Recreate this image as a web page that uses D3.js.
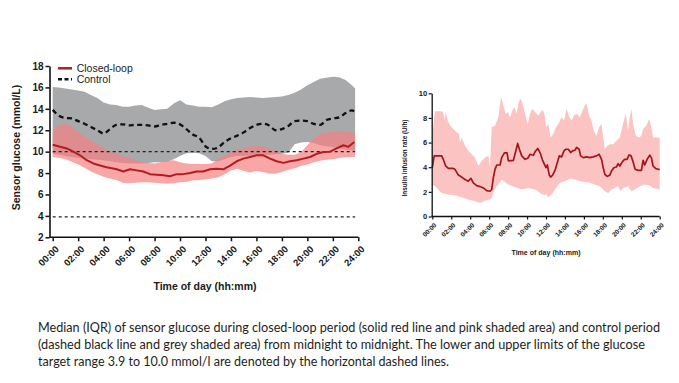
<!DOCTYPE html>
<html><head><meta charset="utf-8">
<script src="https://cdn.jsdelivr.net/npm/d3@7"></script>
<style>
html,body{margin:0;padding:0;background:#fff;}
svg{display:block;}
.ax text{font-family:"Liberation Sans",Arial,sans-serif;font-weight:bold;fill:#1a1a1a;}
</style></head>
<body>
<script>
// ---------- Left chart: sensor glucose (mmol/L) ----------
const gridHours = [0,0.5,1,1.5,2,2.5,3,3.5,4,4.5,5,5.5,6,6.5,7,7.5,8,8.5,9,9.5,10,10.5,11,11.5,12,12.5,13,13.5,14,14.5,15,15.5,16,16.5,17,17.5,18,18.5,19,19.5,20,20.5,21,21.5,22,22.5,23,23.5,23.75];
const controlQ3 = [16.05,16.0,15.9,15.8,15.7,15.6,15.3,15.0,14.6,14.4,14.35,14.2,14.2,14.3,14.35,14.1,13.9,13.95,14.0,14.5,14.8,14.4,14.3,14.2,14.2,14.15,14.4,14.7,14.9,15.0,15.05,15.1,15.05,15.0,15.05,15.1,15.15,15.3,15.5,15.8,16.2,16.5,16.8,16.9,17.0,16.95,16.7,16.2,15.9];
const controlQ1 = [9.8,9.7,9.6,9.5,9.4,9.35,9.3,9.25,9.2,9.1,9.0,8.95,8.9,8.9,8.9,8.95,9.0,9.0,9.05,9.3,9.6,9.85,9.9,9.85,9.6,9.1,9.1,9.3,9.5,9.6,9.6,9.65,9.65,9.7,9.7,9.75,9.8,9.9,10.7,10.85,10.9,10.8,10.6,10.5,10.4,10.3,10.2,10.1,10.0];
const controlMedian = [13.9,13.35,13.15,13.1,12.85,12.6,12.3,12.0,11.7,12.1,12.5,12.55,12.45,12.5,12.5,12.45,12.35,12.5,12.6,12.7,12.55,12.1,11.6,11.3,10.5,10.25,10.4,10.9,11.25,11.5,11.8,12.2,12.5,12.6,12.45,12.0,12.1,12.4,12.85,12.9,12.85,12.6,12.5,12.95,13.1,13.2,13.6,13.85,13.7];
const closedQ3 = [12.0,12.5,12.6,12.3,11.85,11.4,11.0,10.7,10.3,10.0,9.8,9.6,9.4,9.2,9.0,8.95,8.9,9.0,9.15,9.2,9.0,8.9,8.85,8.85,8.85,8.9,9.3,9.6,9.95,10.2,10.3,10.45,10.5,10.45,10.3,10.0,9.8,9.7,9.7,9.95,10.6,11.2,11.65,11.8,11.85,11.85,11.9,11.8,11.7];
const closedQ1 = [9.5,9.4,9.3,9.05,8.8,8.5,8.15,7.9,7.65,7.5,7.35,7.1,7.05,7.1,7.15,7.15,7.1,7.05,7.0,7.05,7.15,7.2,7.3,7.35,7.4,7.5,7.6,7.9,8.25,8.4,8.2,8.05,8.2,8.1,7.95,7.95,8.1,8.3,8.45,8.65,8.8,9.0,9.15,9.25,9.3,9.4,9.5,9.5,9.5];
const closedMedHours = [0,0.58,1.1,1.62,2.15,2.67,3.19,3.72,4.24,5.03,5.55,6.07,6.6,7.12,7.64,8.17,8.69,9.21,9.74,10.26,10.79,11.31,11.83,12.36,12.88,13.4,13.93,14.45,14.97,15.5,16.02,16.54,17.07,17.59,18.12,18.64,19.16,19.69,20.21,20.73,21.26,21.78,22.3,22.83,23.22,23.69];
const closedMedian = [10.65,10.45,10.3,10.0,9.66,9.2,8.9,8.7,8.55,8.35,8.15,8.35,8.25,8.15,7.9,7.85,7.8,7.7,7.9,7.9,8.0,8.15,8.15,8.35,8.4,8.35,8.7,9.1,9.35,9.5,9.66,9.66,9.35,9.1,8.95,9.1,9.2,9.35,9.5,9.8,9.97,10.0,10.3,10.6,10.45,10.9];
const targetLimits = [10.0, 3.9];
const glucoseTicks = [2,4,6,8,10,12,14,16,18];
const timeTicks = [0,2,4,6,8,10,12,14,16,18,20,22,24];
const timeLabels = ["00:00","02:00","04:00","06:00","08:00","10:00","12:00","14:00","16:00","18:00","20:00","22:00","24:00"];
const legendLabels = ["Closed-loop","Control"];

// ---------- Right chart: insulin infusion rate (U/h) ----------
const insMedHours = [0,0.2,0.99,1.16,1.41,1.69,2.2,2.39,2.75,3.1,3.45,3.8,4.08,4.33,4.68,5.04,5.39,5.74,6.09,6.27,6.44,6.62,6.8,7.15,7.32,7.61,7.89,8.03,8.56,8.8,9.01,9.19,9.44,9.79,10.07,10.32,10.67,10.85,11.13,11.37,11.62,11.8,12.0,12.14,12.35,12.49,12.7,12.95,13.19,13.4,13.65,13.9,14.1,14.35,14.6,14.8,15.05,15.23,15.5,15.65,15.93,16.28,16.63,16.98,17.33,17.61,17.86,18.04,18.21,18.46,18.74,18.91,19.16,19.44,19.61,19.79,20.07,20.3,20.55,20.77,20.98,21.19,21.4,21.72,22.07,22.25,22.42,22.67,22.95,23.12,23.3,23.56,23.82,24];
const insMedian = [3.96,4.92,4.92,4.64,4.1,3.9,3.9,3.83,3.36,3.2,3.0,2.87,3.09,2.73,2.51,2.43,2.32,2.1,2.05,2.19,3.14,3.83,4.18,4.18,4.78,5.16,5.16,4.51,4.56,5.27,5.93,5.46,4.92,4.64,4.73,5.05,4.97,5.27,5.52,5.19,4.6,4.3,3.96,4.18,3.36,3.2,3.36,3.74,4.37,4.92,4.84,5.33,5.46,5.46,5.19,5.33,5.38,5.6,5.46,4.92,4.78,4.84,4.78,4.84,4.92,5.05,4.64,3.96,3.42,3.25,3.36,3.69,3.96,4.02,4.29,4.1,4.45,4.64,4.64,5.0,4.92,4.45,3.83,3.74,3.74,4.56,4.18,4.64,4.97,4.78,4.1,3.9,3.83,3.83];
const insQ3Hours = [0,0.28,0.99,1.16,1.34,1.41,1.62,1.87,2.22,2.57,2.82,2.92,3.1,3.45,3.8,4.15,4.5,4.86,5.21,5.56,5.92,6.09,6.27,6.62,6.97,7.25,7.5,7.75,7.96,8.2,8.45,8.66,8.9,9.08,9.26,9.44,9.61,9.79,10.07,10.32,10.56,10.85,11.2,11.55,11.72,11.9,12.0,12.25,12.49,12.77,13.05,13.3,13.65,13.9,14.18,14.46,14.7,14.95,15.23,15.58,15.86,16.1,16.28,16.56,16.8,17.05,17.33,17.61,17.86,18.04,18.21,18.46,18.74,19.09,19.44,19.79,20.12,20.42,20.67,20.84,21.0,21.19,21.47,21.82,22.07,22.25,22.6,22.88,23.12,23.3,23.65,24];
const insQ3 = [6.6,8.55,8.55,8.47,7.8,8.55,7.8,7.4,7.1,6.83,6.7,6.0,6.4,5.74,5.33,5.05,4.78,4.1,4.5,4.78,4.92,3.96,7.24,7.38,8.06,9.7,9.0,8.33,8.47,8.06,8.6,8.88,8.33,9.15,9.56,9.4,8.88,8.33,7.5,8.33,8.74,8.47,8.2,8.6,8.6,8.06,7.24,7.51,6.42,6.69,7.24,7.51,8.06,7.79,8.74,8.06,7.79,8.2,8.33,8.06,8.6,9.02,9.15,8.2,7.79,6.97,6.56,7.24,7.51,6.42,5.46,5.74,5.87,5.87,6.15,6.42,7.51,8.33,6.97,8.06,8.74,7.51,6.56,6.42,6.56,7.1,7.38,7.92,7.24,6.42,6.42,6.37];
const insQ1Hours = [0,0.28,0.63,0.99,1.69,2.39,3.1,3.8,4.5,5.04,5.56,6.09,6.27,6.62,6.97,7.32,7.68,8.03,8.73,9.44,10.14,10.85,11.55,11.9,12.0,12.25,12.6,12.95,13.47,14.0,14.53,15.05,15.58,16.1,16.63,17.16,17.68,18.21,18.56,18.91,19.26,19.61,19.86,20.14,20.67,21.02,21.37,21.89,22.42,22.88,23.3,24];
const insQ1 = [2.6,2.46,2.19,1.91,1.78,1.72,1.56,1.37,1.23,1.09,1.28,1.37,1.5,2.32,2.6,3.0,2.81,2.6,2.38,2.19,2.32,2.19,1.83,1.72,1.83,1.56,1.78,2.19,2.73,2.87,3.09,3.0,2.87,2.81,2.73,2.6,2.46,2.05,1.91,2.19,2.32,2.46,2.05,2.32,2.46,2.05,2.19,2.46,2.6,2.54,2.32,2.19];
const insulinTicks = [0,2,4,6,8,10];

const captionLines = [
  "Median (IQR) of sensor glucose during closed-loop period (solid red line and pink shaded area) and control period",
  "(dashed black line and grey shaded area) from midnight to midnight. The lower and upper limits of the glucose",
  "target range 3.9 to 10.0 mmol/l are denoted by the horizontal dashed lines."
];

const W = 679, H = 383;
const svg = d3.select("body").append("svg").attr("width", W).attr("height", H);
svg.append("rect").attr("width", W).attr("height", H).attr("fill", "#fff");

// ===== Left chart =====
const xL = d3.scaleLinear().domain([0, 24]).range([52.7, 358.3]);
const yL = d3.scaleLinear().domain([2, 18]).range([237.3, 66]);
const axLx = 49.5;
const gL = svg.append("g");

const areaL = (lo, hi) => d3.area().x((d, i) => xL(gridHours[i])).y0((d, i) => yL(lo[i])).y1((d, i) => yL(hi[i]));
gL.append("path").attr("d", areaL(controlQ1, controlQ3)(gridHours)).attr("fill", "#a7a9aa");
gL.append("path").attr("d", areaL(closedQ1, closedQ3)(gridHours)).attr("fill", "rgb(245,128,128)").attr("fill-opacity", 0.7);

targetLimits.forEach(v => {
  gL.append("line").attr("x1", xL(0)).attr("x2", xL(23.75)).attr("y1", yL(v)).attr("y2", yL(v))
    .attr("stroke", "#222").attr("stroke-width", 1.3).attr("stroke-dasharray", "3,3");
});

gL.append("path").attr("d", d3.line().x((d, i) => xL(gridHours[i])).y(d => yL(d)).curve(d3.curveMonotoneX)(controlMedian))
  .attr("fill", "none").attr("stroke", "#111").attr("stroke-width", 2.3).attr("stroke-dasharray", "5,3.5");
gL.append("path").attr("d", d3.line().x((d, i) => xL(closedMedHours[i])).y(d => yL(d))(closedMedian))
  .attr("fill", "none").attr("stroke", "#b31d22").attr("stroke-width", 2).attr("stroke-linejoin", "round");

// axes
const yAxL = gL.append("g").attr("class", "ax").attr("transform", `translate(${axLx},0)`)
  .call(d3.axisLeft(yL).tickValues(glucoseTicks).tickSize(4).tickPadding(2).tickSizeOuter(0));
yAxL.selectAll("text").style("font-size", "10px");
yAxL.selectAll("line").attr("stroke", "#111").attr("stroke-width", 1.5);
yAxL.select(".domain").attr("stroke", "#111").attr("stroke-width", 1.6);

const xAxL = gL.append("g").attr("class", "ax").attr("transform", `translate(0,${yL(2)})`)
  .call(d3.axisBottom(xL).tickValues(timeTicks).tickFormat((d, i) => timeLabels[i]).tickSize(4).tickSizeOuter(0));
xAxL.select(".domain").remove();
xAxL.append("line").attr("x1", axLx).attr("x2", xL(24)).attr("stroke", "#111").attr("stroke-width", 1.6);
xAxL.selectAll(".tick line").attr("stroke", "#111").attr("stroke-width", 1.5);
xAxL.selectAll(".tick text").style("font-size", "9.5px").attr("x", 0).attr("y", 0).attr("dy", "0.35em")
  .attr("text-anchor", "end").attr("transform", "translate(4,10) rotate(-45)");

gL.append("text").attr("x", 205).attr("y", 286).attr("dy", "0.35em").attr("text-anchor", "middle")
  .style("font", "bold 10.5px 'Liberation Sans', Arial, sans-serif").attr("fill", "#1a1a1a").text("Time of day (hh:mm)");
gL.append("text").attr("transform", "translate(16,147.5) rotate(-90)").attr("dy", "0.35em").attr("text-anchor", "middle")
  .style("font", "bold 10.5px 'Liberation Sans', Arial, sans-serif").attr("fill", "#1a1a1a").text("Sensor glucose (mmol/L)");

// legend
const leg = gL.append("g");
leg.append("line").attr("x1", 58).attr("x2", 72).attr("y1", 68.3).attr("y2", 68.3).attr("stroke", "#b31d22").attr("stroke-width", 2.5);
leg.append("line").attr("x1", 58).attr("x2", 72).attr("y1", 79.3).attr("y2", 79.3).attr("stroke", "#111").attr("stroke-width", 2.5).attr("stroke-dasharray", "4,2.5");
legendLabels.forEach((t, i) => {
  leg.append("text").attr("x", 76.7).attr("y", 68.3 + i * 11).attr("dy", "0.35em")
    .style("font", "10.5px 'Liberation Sans', Arial, sans-serif").attr("fill", "#222").text(t);
});

// ===== Right chart =====
const xR = d3.scaleLinear().domain([0, 24]).range([432.3, 659.7]);
const yR = d3.scaleLinear().domain([0, 10]).range([216.5, 93.3]);
const axRx = 431.7;
const gR = svg.append("g");

const bandPts = insQ3Hours.map((h, i) => [h, insQ3[i]])
  .concat(insQ1Hours.map((h, i) => [h, insQ1[i]]).reverse());
gR.append("path").attr("d", d3.line().x(d => xR(d[0])).y(d => yR(d[1]))(bandPts) + "Z").attr("fill", "#fcc3c3");
gR.append("path").attr("d", d3.line().x((d, i) => xR(insMedHours[i])).y(d => yR(d))(insMedian))
  .attr("fill", "none").attr("stroke", "#a3161b").attr("stroke-width", 1.7).attr("stroke-linejoin", "round");

const yAxR = gR.append("g").attr("class", "ax").attr("transform", `translate(${axRx},0)`)
  .call(d3.axisLeft(yR).tickValues(insulinTicks).tickSize(3).tickPadding(1.5).tickSizeOuter(0));
yAxR.selectAll("text").style("font-size", "7.5px");
yAxR.selectAll("line").attr("stroke", "#111").attr("stroke-width", 1.2);
yAxR.select(".domain").attr("stroke", "#111").attr("stroke-width", 1.3);

const xAxR = gR.append("g").attr("class", "ax").attr("transform", `translate(0,${yR(0)})`)
  .call(d3.axisBottom(xR).tickValues(timeTicks).tickFormat((d, i) => timeLabels[i]).tickSize(3).tickSizeOuter(0));
xAxR.select(".domain").remove();
xAxR.append("line").attr("x1", axRx).attr("x2", xR(24)).attr("stroke", "#111").attr("stroke-width", 1.3);
xAxR.selectAll(".tick line").attr("stroke", "#111").attr("stroke-width", 1.2);
xAxR.selectAll(".tick text").style("font-size", "6.5px").attr("x", 0).attr("y", 0).attr("dy", "0.35em")
  .attr("text-anchor", "end").attr("transform", "translate(2.5,7.5) rotate(-45)");

gR.append("text").attr("x", 546).attr("y", 253).attr("dy", "0.35em").attr("text-anchor", "middle")
  .attr("textLength", 69).attr("lengthAdjust", "spacingAndGlyphs")
  .style("font", "bold 7px 'Liberation Sans', Arial, sans-serif").attr("fill", "#1a1a1a").text("Time of day (hh:mm)");
gR.append("text").attr("transform", "translate(405,158) rotate(-90)").attr("dy", "0.35em").attr("text-anchor", "middle")
  .attr("textLength", 77).attr("lengthAdjust", "spacingAndGlyphs")
  .style("font", "bold 6.5px 'Liberation Sans', Arial, sans-serif").attr("fill", "#1a1a1a").text("Insulin infusion rate (U/h)");

// ===== Caption =====
const capLens = [622, 607, 411];
captionLines.forEach((t, i) => {
  svg.append("text").attr("x", 38).attr("y", 332 + i * 17)
    .attr("textLength", capLens[i]).attr("lengthAdjust", "spacingAndGlyphs")
    .style("font", "12.5px Lato, 'Open Sans', sans-serif").attr("fill", "#1e1e1e").text(t);
});
</script>
</body></html>
